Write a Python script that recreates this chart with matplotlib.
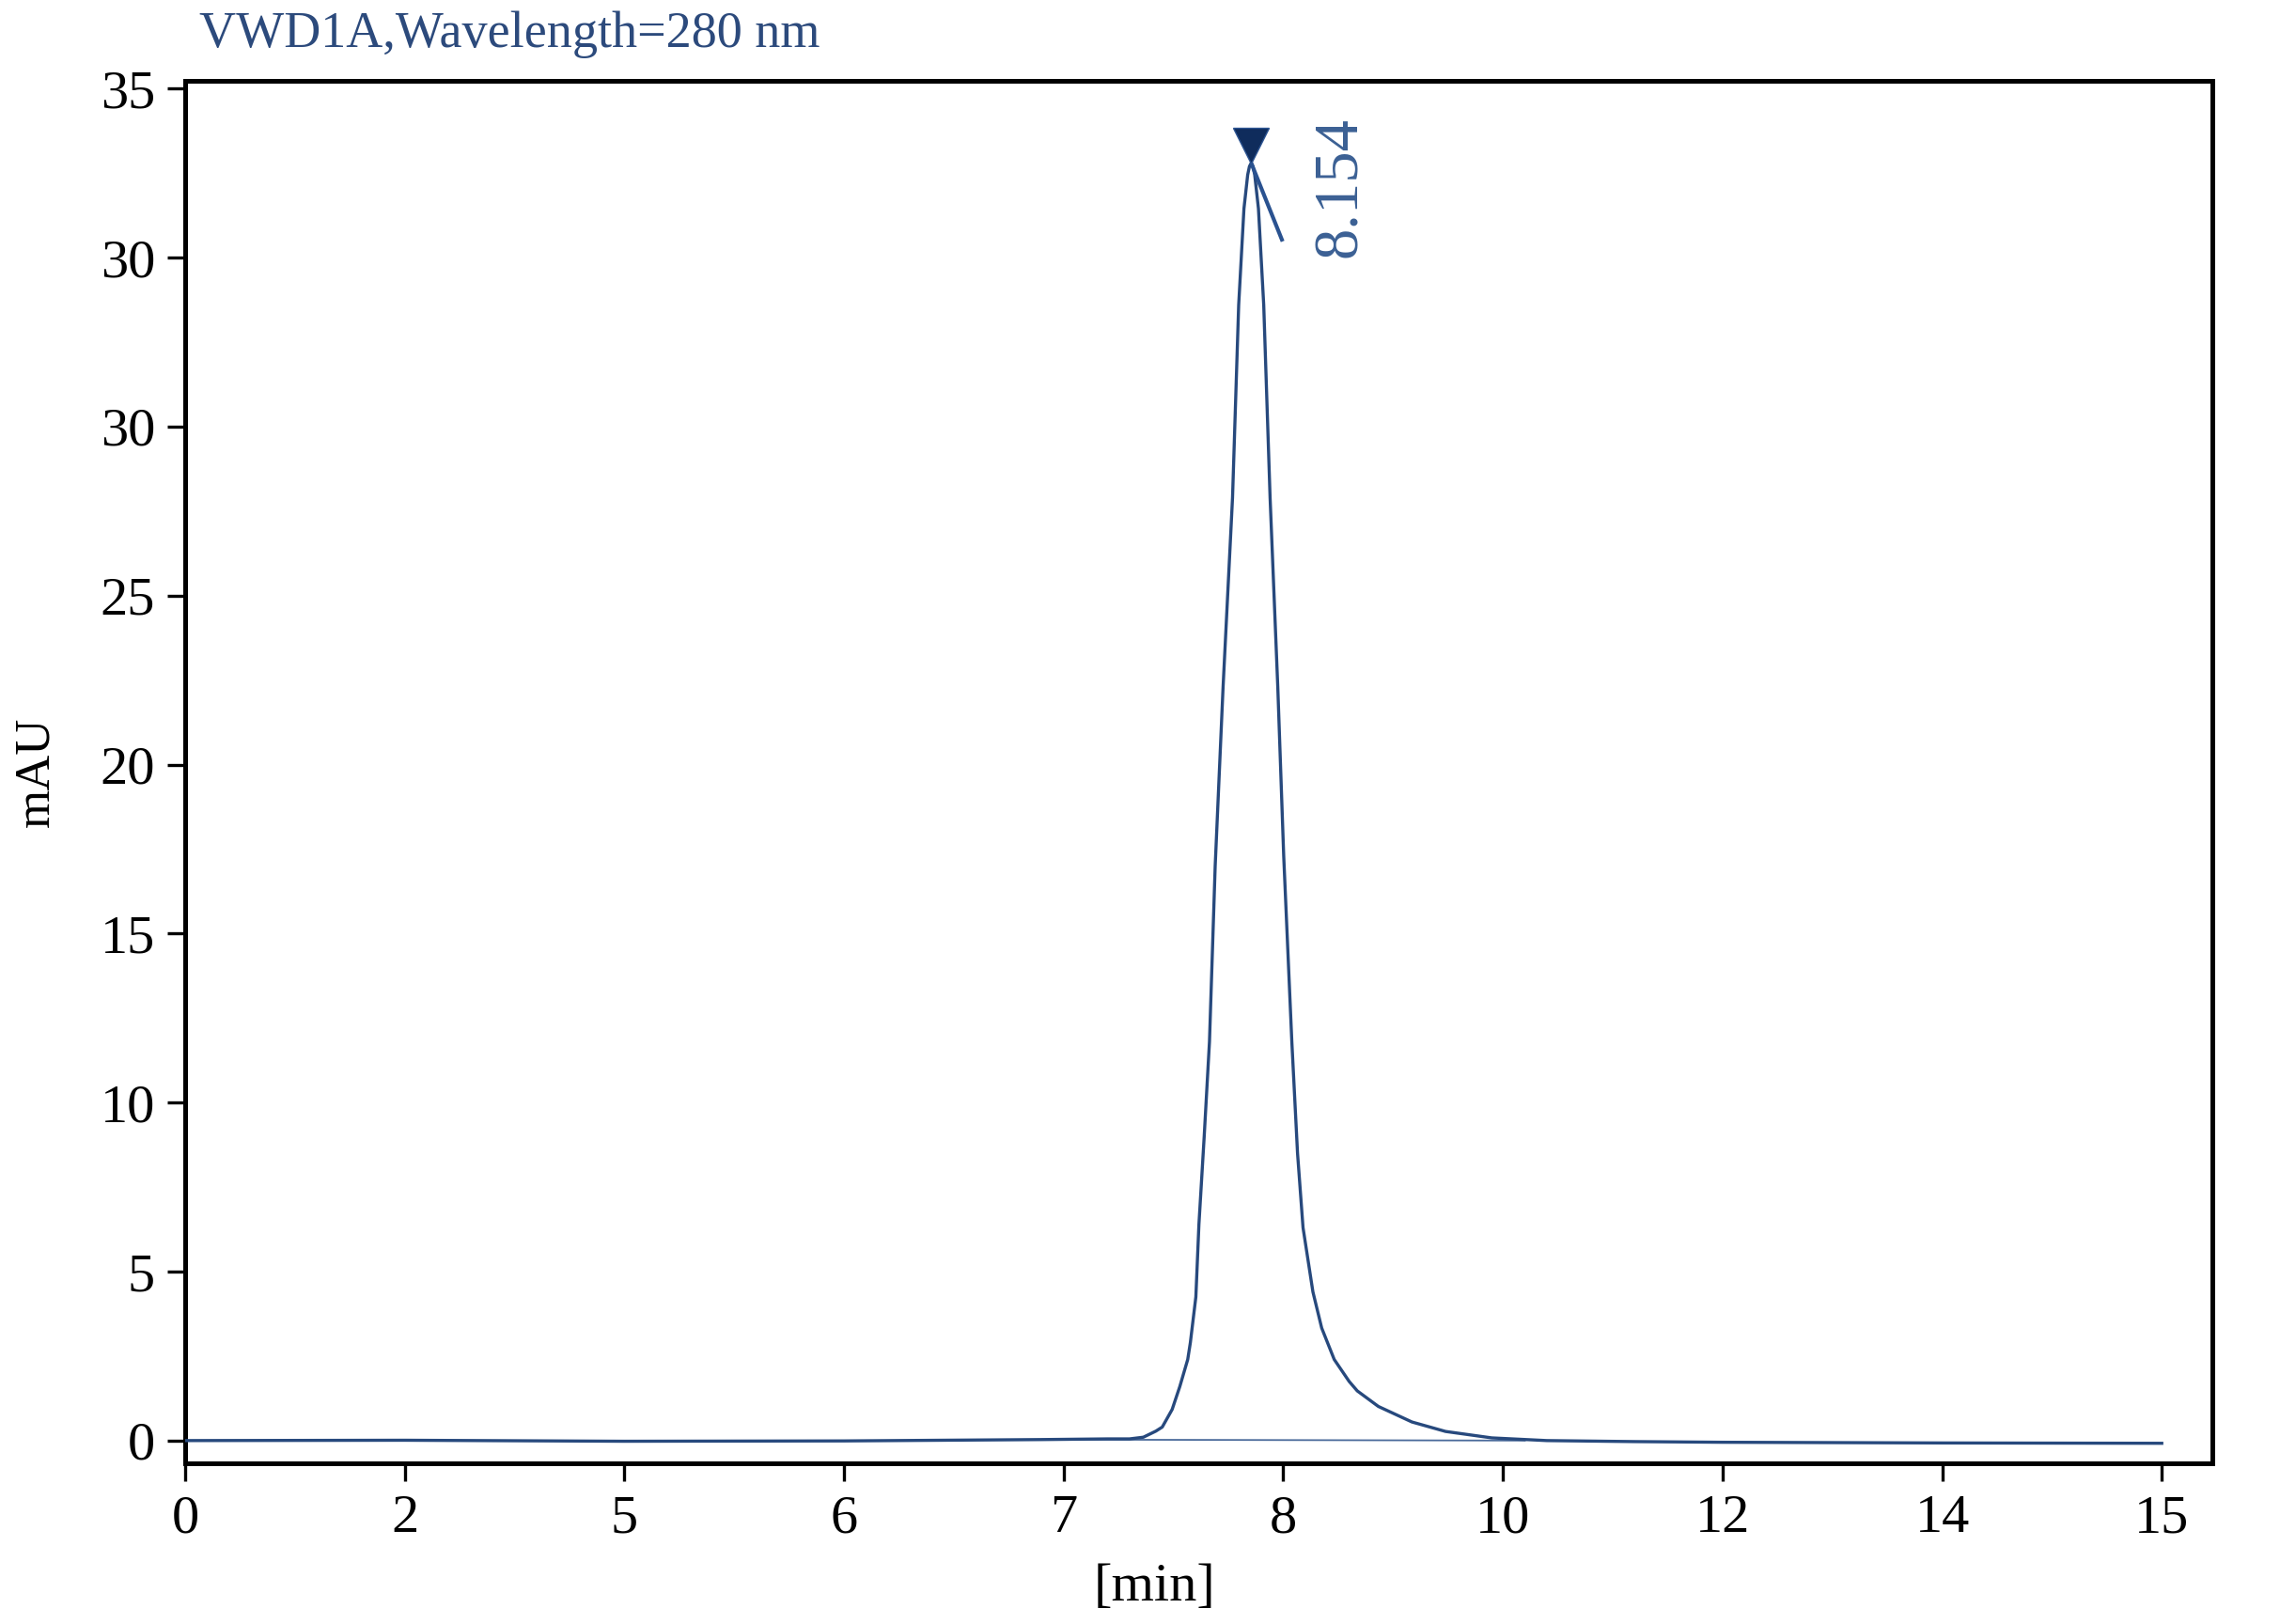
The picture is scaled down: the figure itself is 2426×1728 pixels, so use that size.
import matplotlib.pyplot as plt
from matplotlib.ticker import FixedLocator, FixedFormatter

# signal trace, x in axis tick units (tick i -> label time_labels[i]), y in mAU
trace_x = [0.0, 1.0, 2.0, 3.0, 3.9, 4.2, 4.30, 4.363, 4.42, 4.449, 4.494,
           4.529, 4.565, 4.577, 4.602, 4.616, 4.640, 4.664, 4.690, 4.726,
           4.769, 4.797, 4.821, 4.838, 4.846, 4.854, 4.862, 4.870, 4.887,
           4.911, 4.940, 4.975, 5.002, 5.039, 5.065, 5.090, 5.135, 5.175,
           5.232, 5.30, 5.337, 5.433, 5.586, 5.739, 5.949, 6.2, 6.6, 7.0,
           8.0, 9.0]
trace_y = [0.0, 0.01, -0.02, -0.01, 0.03, 0.05, 0.05, 0.10, 0.28, 0.40, 0.92,
           1.6, 2.4, 2.9, 4.25, 6.4, 9.0, 11.8, 17.0, 22.3,
           27.9, 33.6, 36.45, 37.45, 37.7, 37.8, 37.7, 37.45, 36.45,
           33.6, 27.9, 22.3, 17.3, 11.8, 8.5, 6.3, 4.4, 3.33,
           2.40, 1.75, 1.47, 1.01, 0.55, 0.27, 0.08, 0.0, -0.03, -0.05,
           -0.07, -0.08]

# integration baseline under the peak
base_x = [3.9, 6.1]
base_y = [0.03, 0.0]

peak_x = 4.854
peak_y = 37.8
peak_label = "8.154"
tick_end = (4.997, 35.48)

time_ticks = [0, 1, 2, 3, 4, 5, 6, 7, 8, 9]
time_labels = ["0", "2", "5", "6", "7", "8", "10", "12", "14", "15"]
mau_ticks = [0, 5, 10, 15, 20, 25, 30, 35, 40]
mau_labels = ["0", "5", "10", "15", "20", "25", "30", "30", "35"]

title = "VWD1A,Wavelength=280 nm"

LINE = "#27497d"
SERIF = ["Liberation Serif", "DejaVu Serif"]

plt.rcParams["font.family"] = SERIF

fig = plt.figure(figsize=(24.26, 17.28), dpi=100)
ax = fig.add_axes([0.0812, 0.0990, 0.8891, 0.8512])

ax.plot(trace_x, trace_y, color=LINE, linewidth=2.4, zorder=3,
        solid_joinstyle="round")
ax.plot(base_x, base_y, color="#4a6a9a", linewidth=1.3, zorder=2)

# peak apex marker + tick line + retention time label
ax.plot([peak_x, tick_end[0]], [peak_y, tick_end[1]], color="#2a5290",
        linewidth=3.0, solid_capstyle="butt", zorder=4)
ax.plot([peak_x], [peak_y + 0.5], marker="v", markersize=27,
        color="#0f2c5c", markeredgecolor="#2a5290", markeredgewidth=1.0,
        linestyle="none", zorder=5)
ax.text(5.13, 35.0, peak_label, rotation=90, ha="left", va="top",
        fontsize=48, color="#3b6094", rotation_mode="anchor")

ax.set_xlim(0, 9.23)
ax.set_ylim(-0.67, 40.23)

ax.xaxis.set_major_locator(FixedLocator(time_ticks))
ax.xaxis.set_major_formatter(FixedFormatter(time_labels))
ax.yaxis.set_major_locator(FixedLocator(mau_ticks))
ax.yaxis.set_major_formatter(FixedFormatter(mau_labels))

for sp in ax.spines.values():
    sp.set_linewidth(3.6)
    sp.set_color("black")

ax.tick_params(axis="both", direction="out", length=14, width=2.4,
               labelsize=42, colors="black")
ax.tick_params(axis="x", pad=10)
ax.tick_params(axis="y", pad=9)

ax.set_xlabel("[min]", fontsize=42)
ax.xaxis.set_label_coords(0.478, -0.072)
ax.set_ylabel("mAU", fontsize=38)
ax.yaxis.set_label_coords(-0.0626, 0.5)

fig.text(0.0874, 0.971, title, ha="left", va="baseline", fontsize=39,
         color="#2c4a7c")

fig.savefig("out.png", dpi=100, facecolor="white")
plt.close(fig)
